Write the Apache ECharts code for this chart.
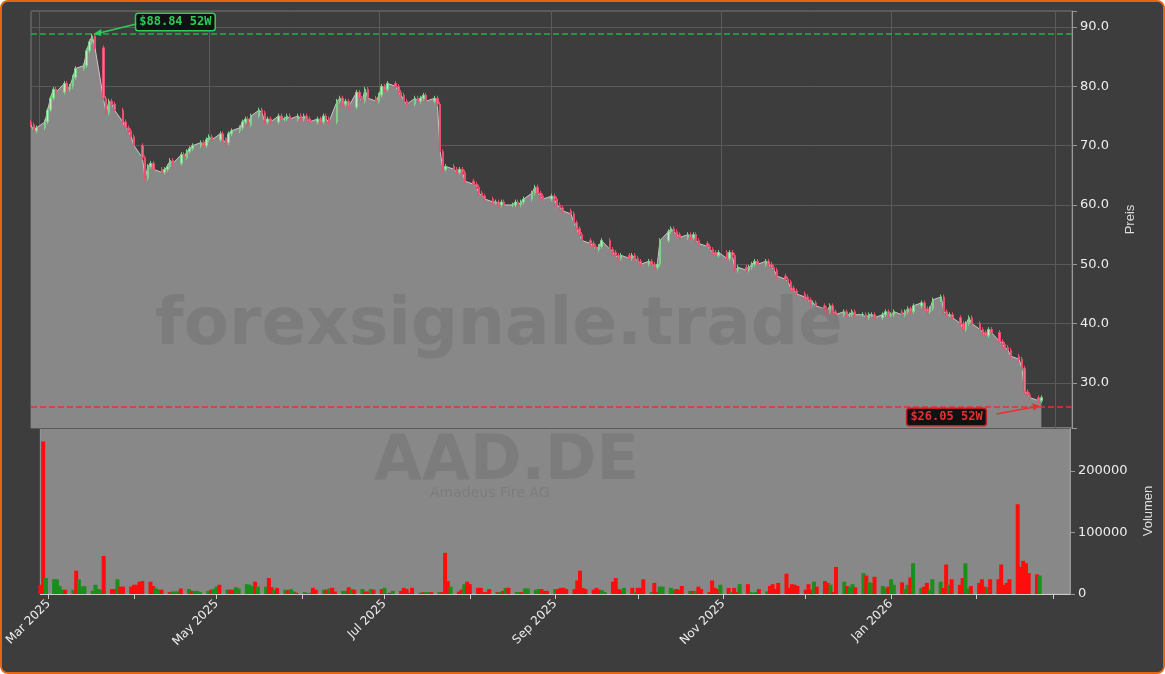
<!DOCTYPE html>
<html>
<head>
<meta charset="utf-8">
<script src="https://cdn.jsdelivr.net/npm/echarts@6/dist/echarts.min.js"></script>
<style>
  html, body { margin: 0; padding: 0; background: #fff; }
  #chart { width: 1165px; height: 674px; box-sizing: border-box; border: 2px solid #e8650f; border-radius: 8px; background: #3d3d3d; overflow: hidden; }
</style>
</head>
<body>
<div id="chart"></div>
<script>
// erster Handelstag
const startDate = '2025-02-26'

// Schlusskurse, eine Zeile pro Kalenderwoche (Mo-Fr)
const closes = [
  73.5, 72.5, 73,                 // Feb 26
  74, 76, 78, 79.5, 79,           // Mar 3
  80.5, 79.5, 80, 81.5, 83,       // Mar 10
  83.5, 86, 87.5, 88.5, 86.5,     // Mar 17
  78, 75.5, 77.5, 77, 76,         // Mar 24
  74, 73, 72.5, 71.5, 70,         // Mar 31
  68, 64.5, 66.5, 67, 66,         // Apr 7
  65.5, 66, 66.5, 67.5, 67,       // Apr 14
  68.5, 68, 69, 69.5, 70,         // Apr 21
  70.5, 70, 71, 71.5, 71,         // Apr 28
  72, 71, 70.5, 72, 72.5,         // May 5
  73, 74, 74.5, 73.5, 75,         // May 12
  76, 75.5, 74, 74.5, 74,         // May 19
  75, 74.5, 74.5, 75, 74.5,       // May 26
  75, 74.5, 75, 74.5, 74,         // Jun 2
  74.5, 74, 75, 74.5, 74,         // Jun 9
  77.5, 78, 77, 77.5, 76.5,       // Jun 16
  79, 78, 77.5, 79.5, 78,         // Jun 23
  77.5, 78.5, 80, 79.5, 80.5,     // Jun 30
  80, 79, 78.5, 77.5, 77,         // Jul 7
  78, 77.5, 78, 78.5, 77.5,       // Jul 14
  78, 77, 69, 66, 66.5,           // Jul 21
  66, 65.5, 66, 65.5, 64,         // Jul 28
  63.5, 63, 62, 61.5, 61,         // Aug 4
  60.5, 60.5, 60, 60.5, 60,       // Aug 11
  60, 60.5, 60, 60.5, 61,         // Aug 18
  62, 63, 62, 61.5, 61,           // Aug 25
  61.5, 61, 60, 59.5, 59,         // Sep 1
  58.5, 57, 56, 55, 54,           // Sep 8
  53.5, 53, 52.5, 53, 54,         // Sep 15
  52.5, 52, 51.5, 51, 51.5,       // Sep 22
  51, 51.5, 51, 50.5, 50,         // Sep 29
  50.5, 50, 49.5, 50, 54,         // Oct 6
  55.5, 56, 55.5, 55, 54.5,       // Oct 13
  55, 54.5, 55, 54, 53.5,         // Oct 20
  53, 52.5, 52, 51.5, 52,         // Oct 27
  51, 52, 51.5, 49, 49.5,         // Nov 3
  49, 49.5, 50, 50.5, 50,         // Nov 10
  50.5, 50, 49.5, 49, 48,         // Nov 17
  47.5, 47, 46, 45.5, 45,         // Nov 24
  44.5, 44, 43.5, 43.5, 43,       // Dec 1
  42.5, 42, 43, 42, 41.5,         // Dec 8
  42, 41.5, 41.5, 42, 41.5,       // Dec 15
  41.5, 41, 41.5, 41.5, 41,       // Dec 22
  41.5, 42, 41.5, 41.5, 42,       // Dec 29
  41.5, 42, 42.5, 42, 43,         // Jan 5
  43.5, 42.5, 42, 42.5, 44,       // Jan 12
  44.5, 42, 41.5, 41.5, 41,       // Jan 19
  40, 39, 40, 41, 40,             // Jan 26
  39, 38.5, 38, 39, 38.5,         // Feb 2
  37, 36.5, 36, 35.5, 34.5,       // Feb 9
  34, 32.5, 28.5, 28, 27.5,       // Feb 16
  27, 27.5                        // Feb 23
]

// Volumen, gleiche Aufteilung wie closes
const volumes = [
  15000, 248000, 26000,
  24000, 24000, 13000, 7000, 7000,
  7000, 38000, 24000, 12000, 13000,
  5000, 15000, 8000, 7000, 62000,
  8000, 8000, 24000, 12000, 12000,
  12000, 15000, 15000, 20000, 21000,
  20000, 13000, 9000, 7000, 7000,
  3000, 4000, 4000, 4000, 9000,
  8000, 5000, 5000, 5000, 3000,
  5000, 7000, 8000, 12000, 15000,
  7000, 7000, 7000, 11000, 9000,
  16000, 15000, 13000, 20000, 12000,
  12000, 26000, 11000, 7000, 10000,
  7000, 6000, 8000, 4000, 2000,
  3000, 1000, 2000, 10000, 7000,
  7000, 7000, 9000, 10000, 4000,
  5000, 5000, 11000, 8000, 7000,
  8000, 4000, 4000, 8000, 7000,
  8000, 10000, 1000, 2000, 5000,
  5000, 10000, 8000, 2000, 10000,
  2000, 3000, 3000, 3000, 3000,
  3000, 3000, 67000, 21000, 12000,
  4000, 7000, 16000, 20000, 16000,
  10000, 10000, 3000, 3000, 8000,
  3000, 3000, 5000, 10000, 10000,
  3000, 3000, 3000, 9000, 9000,
  7000, 8000, 8000, 5000, 5000,
  8000, 8000, 10000, 10000, 8000,
  8000, 22000, 38000, 10000, 8000,
  7000, 10000, 7000, 6000, 3000,
  20000, 26000, 8000, 7000, 10000,
  10000, 3000, 10000, 10000, 24000,
  3000, 18000, 3000, 12000, 12000,
  10000, 7000, 8000, 7000, 13000,
  5000, 5000, 5000, 12000, 8000,
  3000, 22000, 10000, 8000, 15000,
  10000, 3000, 10000, 3000, 16000,
  16000, 3000, 2000, 3000, 8000,
  4000, 13000, 16000, 8000, 18000,
  33000, 10000, 16000, 15000, 13000,
  7000, 16000, 7000, 20000, 12000,
  21000, 18000, 15000, 3000, 44000,
  20000, 13000, 12000, 16000, 11000,
  34000, 30000, 19000, 18000, 28000,
  13000, 10000, 12000, 24000, 15000,
  19000, 8000, 15000, 27000, 50000,
  10000, 12000, 18000, 7000, 24000,
  20000, 10000, 48000, 15000, 24000,
  15000, 26000, 50000, 9000, 13000,
  18000, 24000, 12000, 11000, 24000,
  24000, 48000, 15000, 18000, 24000,
  146000, 44000, 54000, 50000, 34000,
  32000, 30000
]

// Achsenticks
const priceTicks = [30, 40, 50, 60, 70, 80, 90]
const volumeTicks = [0, 100000, 200000]

const high52 = 88.84
const low52 = 26.05

// Handelstage erzeugen (Mo-Fr), als Zeitstempel
const dates = []
let d = Date.parse(startDate + 'T00:00:00Z')
while (dates.length < closes.length) {
  const wd = new Date(d).getUTCDay()
  if (wd !== 0 && wd !== 6) dates.push(d)
  d += 86400000
}

const candles = closes.map((c, i) => {
  const o = i === 0 ? c + 0.4 : closes[i - 1]
  return [dates[i], o, c, Math.min(o, c) - 0.4, Math.max(o, c) + 0.4]
})
const areaData = closes.map((c, i) => [dates[i], c])
const isUp = i => i > 0 && closes[i] >= closes[i - 1]

const chart = echarts.init(document.getElementById('chart'))
const axisText = { color: '#eeeeee', fontSize: 13, fontFamily: 'DejaVu Sans' }
const xMin = Date.parse('2025-02-26T00:00:00Z'), xMax = Date.parse('2026-03-07T00:00:00Z')
const months = ['Jan','Feb','Mar','Apr','May','Jun','Jul','Aug','Sep','Oct','Nov','Dec']

// Volumenbalken als custom series
const volData = dates.map((t, i) => [t, volumes[i] || 0, isUp(i) ? 1 : 0])
function renderVol(params, api) {
  const top = api.coord([api.value(0), api.value(1)])
  const base = api.coord([api.value(0), 0])
  return {
    type: 'rect',
    shape: { x: top[0] - 2, y: top[1], width: 4, height: base[1] - top[1] },
    style: { fill: api.value(2) ? '#1a8f1a' : '#ff0d0d' }
  }
}

chart.setOption({
  animation: false,
  backgroundColor: '#3d3d3d',
  grid: [
    { left: 29, right: 91, top: 9, height: 417, show: true, backgroundColor: 'transparent', borderColor: '#777' },
    { left: 29, right: 91, top: 426, height: 166, show: true, backgroundColor: '#888888', borderColor: '#999' }
  ],
  xAxis: [
    { type: 'time', gridIndex: 0, min: xMin, max: xMax, axisLabel: { show: false }, axisTick: { show: false },
      axisLine: { show: false }, splitLine: { show: true, lineStyle: { color: '#5a5a5a' } } },
    { type: 'time', gridIndex: 1, min: xMin, max: xMax, splitNumber: 7,
      axisLine: { lineStyle: { color: '#cccccc' } }, axisTick: { show: true, lineStyle: { color: '#ccc' } },
      splitLine: { show: false },
      axisLabel: Object.assign({}, axisText, { rotate: 45, fontSize: 12,
        formatter: v => { const t = new Date(v); return t.getUTCMonth() % 2 === 0 && t.getUTCDate() === 1 && t < new Date('2026-02-01') ? months[t.getUTCMonth()] + ' ' + t.getUTCFullYear() : '' } }) }
  ],
  yAxis: [
    { type: 'value', gridIndex: 0, position: 'right', min: 22.4, max: 92.7, splitNumber: 7,
      name: 'Preis', nameLocation: 'middle', nameGap: 52, nameTextStyle: { color: '#ddd', fontSize: 13 },
      axisLine: { show: true, lineStyle: { color: '#999' } }, axisTick: { show: true },
      axisLabel: Object.assign({}, axisText, { formatter: v => priceTicks.includes(v) ? v.toFixed(1) : '' }),
      splitLine: { lineStyle: { color: '#5a5a5a' } } },
    { type: 'value', gridIndex: 1, position: 'right', min: 0, max: 270000, interval: 100000,
      name: 'Volumen', nameLocation: 'middle', nameGap: 72, nameTextStyle: { color: '#ddd', fontSize: 13 },
      axisLine: { show: true, lineStyle: { color: '#999' } }, axisTick: { show: true },
      axisLabel: Object.assign({}, axisText, { formatter: v => volumeTicks.includes(v) ? String(v) : '', showMaxLabel: false }),
      splitLine: { show: false } }
  ],
  series: [
    { type: 'line', xAxisIndex: 0, yAxisIndex: 0, data: areaData, showSymbol: false,
      lineStyle: { color: '#c8c8c8', width: 1 }, areaStyle: { color: '#888888', opacity: 1 }, z: 2,
      markLine: { silent: true, symbol: 'none', label: { show: false },
        data: [
          { yAxis: high52, lineStyle: { color: '#22b14c', type: 'dashed', width: 1.5 } },
          { yAxis: low52, lineStyle: { color: '#e83030', type: 'dashed', width: 1.5 } }
        ] } },
    { type: 'candlestick', xAxisIndex: 0, yAxisIndex: 0, data: candles, barMaxWidth: 5, z: 3,
      itemStyle: { color: '#b8f0c0', color0: '#f07090', borderColor: '#7fcf8a', borderColor0: '#e8506e', borderWidth: 1 } },
    { type: 'custom', xAxisIndex: 1, yAxisIndex: 1, data: volData, renderItem: renderVol, z: 3,
      encode: { x: 0, y: 1 } }
  ]
})

// Wasserzeichen und 52W-Beschriftungen mit Pfeil
function annotate() {
  const hiIdx = closes.indexOf(Math.max(...closes))
  const hp = chart.convertToPixel({ xAxisIndex: 0, yAxisIndex: 0 }, [dates[hiIdx], high52])
  const lp = chart.convertToPixel({ xAxisIndex: 0, yAxisIndex: 0 }, [dates[dates.length - 1], low52])
  const mark = 'rgba(60,60,60,0.15)'
  const box = (x, y, text, fg, border) => ({
    type: 'text', x: x, y: y, z: 100,
    style: { text: text, fill: fg, font: 'bold 12px DejaVu Sans Mono', backgroundColor: '#111',
      borderColor: border, borderWidth: 1.5, borderRadius: 2, padding: [2, 3] }
  })
  chart.setOption({
    graphic: [
      { type: 'text', x: 153, y: 292, silent: true, z: 100,
        style: { text: 'forexsignale.trade', fill: mark, font: 'bold 66px DejaVu Sans' } },
      { type: 'text', x: 372, y: 430, silent: true, z: 100,
        style: { text: 'AAD.DE', fill: mark, font: 'bold 62px DejaVu Sans' } },
      { type: 'text', x: 428, y: 484, silent: true, z: 100,
        style: { text: 'Amadeus Fire AG', fill: mark, font: '14px DejaVu Sans' } },
      box(hp[0] + 44, 12, '$88.84 52W', '#2ecc5a', '#2ecc5a'),
      { type: 'line', z: 100, shape: { x1: hp[0] + 44, y1: 22, x2: hp[0] + 3, y2: hp[1] }, style: { stroke: '#2ecc5a', lineWidth: 1.5 } },
      { type: 'polygon', z: 100, shape: { points: [[hp[0] + 1, hp[1]], [hp[0] + 9, hp[1] - 5], [hp[0] + 9, hp[1] + 2]] }, style: { fill: '#2ecc5a' } },
      box(lp[0] - 134, 407, '$26.05 52W', '#e83030', '#c02020'),
      { type: 'line', z: 100, shape: { x1: lp[0] - 45, y1: 412, x2: lp[0] - 3, y2: lp[1] }, style: { stroke: '#e83030', lineWidth: 1.5 } },
      { type: 'polygon', z: 100, shape: { points: [[lp[0] - 1, lp[1]], [lp[0] - 9, lp[1] - 3], [lp[0] - 8, lp[1] + 4]] }, style: { fill: '#e83030' } }
    ]
  })
}
annotate()
</script>
</body>
</html>
